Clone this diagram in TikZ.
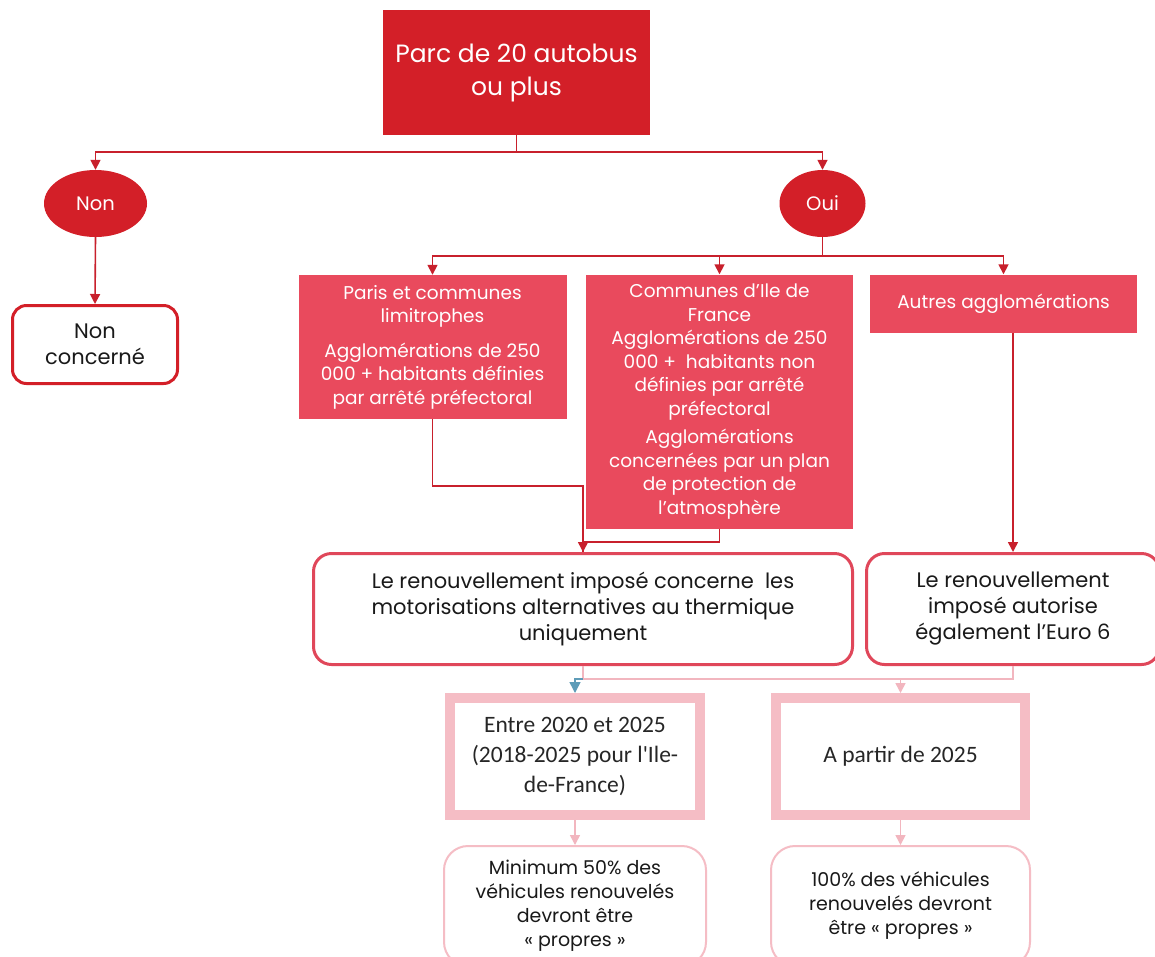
\documentclass[tikz,border=0pt]{standalone}
\usepackage{fontspec}
\setmainfont{Poppins}
\newfontfamily\carl{Carlito}
\usetikzlibrary{arrows.meta,calc,shapes.geometric}
\definecolor{dred}{HTML}{D31F28}
\definecolor{mred}{HTML}{E94A5D}
\definecolor{bred}{HTML}{E0475A}
\definecolor{lred}{HTML}{C8202C}
\definecolor{pinkb}{HTML}{F5BDC5}
\definecolor{pinkl}{HTML}{F2B6BF}
\definecolor{bluea}{HTML}{5E9CB8}
\begin{document}
\begin{tikzpicture}[x=1pt,y=-1pt,
  darkbox/.style={fill=dred,text=white,align=center,inner sep=0,
    font=\fontsize{25}{33}\selectfont},
  ell/.style={ellipse,fill=dred,text=white,inner sep=0,
    font=\fontsize{19.5}{23}\selectfont},
  redbox/.style={fill=mred,text=white,align=center,inner sep=0,
    font=\fontsize{18.5}{23.5}\selectfont},
  whitebox/.style={draw=bred,line width=3pt,rounded corners=18pt,fill=white,
    align=center,inner sep=0,text=black!90,font=\fontsize{21}{26}\selectfont},
  pinkbox/.style={draw=pinkb,line width=10pt,fill=white,align=center,inner sep=0,
    text=black!85,font=\carl\fontsize{23.5}{30}\selectfont},
  softbox/.style={draw=pinkb,line width=2pt,rounded corners=24pt,fill=white,
    align=center,inner sep=0,text=black!90,font=\fontsize{19}{24}\selectfont},
  conn/.style={draw=lred,line width=1.6pt},
  arr/.style={conn,-{Triangle[length=10pt,width=10pt]}},
  pconn/.style={draw=pinkl,line width=1.5pt},
  parr/.style={pconn,-{Triangle[length=10pt,width=10pt]}}
]
\useasboundingbox[fill=white] (0,0) rectangle (1155,956);

\node[darkbox,minimum width=267,minimum height=125] (top) at (516.5,72.5)
  {Parc de 20 autobus\\ou plus};
\node[ell,minimum width=103,minimum height=67] (non) at (95.5,203.5) {Non};
\node[ell,minimum width=86,minimum height=67] (oui) at (822.5,203.5) {Oui};
\node[whitebox,draw=dred,rounded corners=14pt,minimum width=165,minimum height=78] (nc) at (95,344.5)
  {Non\\concerné};

\node[redbox,minimum width=268,minimum height=144] (b1) at (432.5,347)
  {Paris et communes\\limitrophes\\[11pt]Agglomérations de 250\\000 + habitants définies\\par arrêté préfectoral};
\node[redbox,minimum width=267,minimum height=254] (b2) at (719.5,401.5)
  {Communes d’Ile de\\France\\Agglomérations de 250\\000 +\ \ habitants non\\définies par arrêté\\préfectoral\\[5pt]Agglomérations\\concernées par un plan\\de protection de\\l’atmosphère};
\node[redbox,minimum width=267,minimum height=58] (b3) at (1003.5,303.5)
  {Autres agglomérations};

\node[whitebox,minimum width=539,minimum height=111] (rn) at (583,609)
  {Le renouvellement imposé concerne\ \ les\\motorisations alternatives au thermique\\uniquement};
\node[whitebox,minimum width=293,minimum height=111] (r2) at (1013,609)
  {Le renouvellement\\imposé autorise\\également l’Euro 6};

\node[pinkbox,minimum width=250,minimum height=117,outer sep=5pt] (p1) at (575,756.5)
  {Entre 2020 et 2025\\(2018-2025 pour l'Ile-\\de-France)};
\node[pinkbox,minimum width=249,minimum height=117,outer sep=5pt] (p2) at (900.5,756.5)
  {A partir de 2025};

\node[softbox,minimum width=262,minimum height=120] (q1) at (575,906)
  {Minimum 50\% des\\véhicules renouvelés\\devront être\\« propres »};
\node[softbox,minimum width=259,minimum height=120] (q2) at (900.5,906)
  {100\% des véhicules\\renouvelés devront\\être « propres »};

% connectors
\draw[arr] (top.south) -- ++(0,17) -| (non.north);
\draw[arr] (top.south) -- ++(0,17) -| (oui.north);
\draw[arr] (non.south) -- (nc.north);
\draw[arr] (oui.south) -- ++(0,19) -| (b1.north);
\draw[arr] (oui.south) -- ++(0,19) -| (b2.north);
\draw[arr] (oui.south) -- ++(0,19) -| (b3.north);
\draw[arr] (b1.south) -- ++(0,67) -| (rn.north);
\draw[conn] (b2.south) -- ++(0,13) -| (rn.north);
\draw[arr] (b3.south -| r2.north) -- (r2.north);

\draw[pconn] (rn.south) -- ++(0,13) coordinate (j1) -| (r2.south);
\draw[pconn,draw=bluea,-{Triangle[length=11pt,width=11pt]}] (j1) -| (p1.north);
\draw[parr] (j1) -| (p2.north);
\draw[parr] (p1.south) -- (q1.north);
\draw[parr] (p2.south) -- (q2.north);
\end{tikzpicture}
\end{document}
